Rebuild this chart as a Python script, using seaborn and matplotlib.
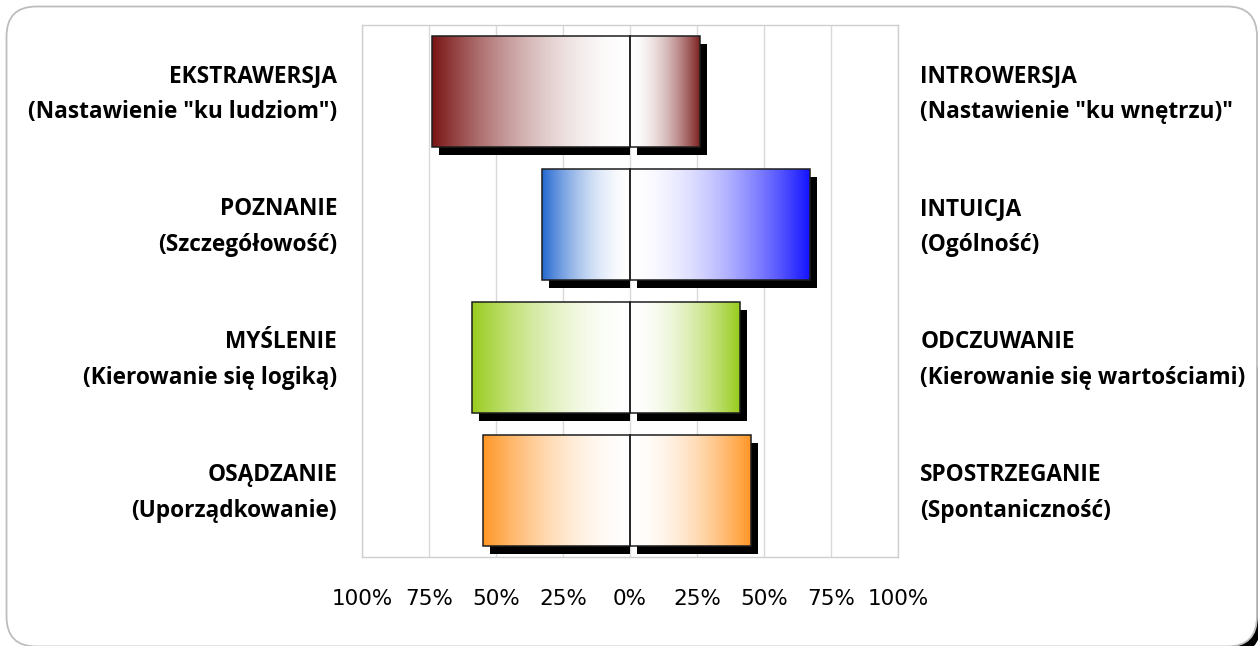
import numpy as np
import pandas as pd
import matplotlib
matplotlib.use("Agg")
import matplotlib.pyplot as plt
import seaborn as sns
from matplotlib.patches import Rectangle, FancyBboxPatch
from matplotlib.colors import to_rgb
import matplotlib.transforms as mtransforms

# ---------------- data ----------------
left_names = ["EKSTRAWERSJA", "POZNANIE", "MYŚLENIE", "OSĄDZANIE"]
left_desc = ['(Nastawienie "ku ludziom")', "(Szczegółowość)",
             "(Kierowanie się logiką)", "(Uporządkowanie)"]
right_names = ["INTROWERSJA", "INTUICJA", "ODCZUWANIE", "SPOSTRZEGANIE"]
right_desc = ['(Nastawienie "ku wnętrzu)"', "(Ogólność)",
              "(Kierowanie się wartościami)", "(Spontaniczność)"]
left_values = [74, 33, 59, 55]
right_values = [26, 67, 41, 45]
left_colors = ["#7a1414", "#2468d0", "#99cc1e", "#ff9626"]
right_colors = ["#7e2222", "#1414ff", "#99cc1e", "#ff9626"]
tick_values = [-100, -75, -50, -25, 0, 25, 50, 75, 100]
tick_labels = ["100%", "75%", "50%", "25%", "0%", "25%", "50%", "75%", "100%"]

# ---------------- figure ----------------
sns.set_theme(style="white")
plt.rcParams['font.family'] = ['Open Sans', 'DejaVu Sans']
W, H, DPI = 1258, 646, 100
fig = plt.figure(figsize=(W / DPI, H / DPI), dpi=DPI)
fig.patch.set_facecolor("white")

# outer rounded frame with shadow at the bottom-right corner
shadow = FancyBboxPatch((3.0, -0.08), 9.61, 3.0,
                        boxstyle="round,pad=0,rounding_size=0.3",
                        transform=fig.dpi_scale_trans, facecolor="black",
                        edgecolor="none", zorder=-2)
frame = FancyBboxPatch((0.065, -0.005), 12.505, 6.4,
                       boxstyle="round,pad=0,rounding_size=0.3",
                       transform=fig.dpi_scale_trans, facecolor="white",
                       edgecolor="#bdbdbd", linewidth=1.3, zorder=-1)
fig.patches.extend([shadow, frame])

ax = fig.add_axes([362 / W, 89 / H, 536 / W, 532 / H])
ax.set_facecolor("white")
ax.set_zorder(1)

df_left = pd.DataFrame({"pair": left_names, "value": [-v for v in left_values]})
df_right = pd.DataFrame({"pair": left_names, "value": right_values})

bar_w = 0.83
sns.barplot(data=df_left, x="value", y="pair", orient="h", width=bar_w,
            color="white", errorbar=None, ax=ax)
sns.barplot(data=df_right, x="value", y="pair", orient="h", width=bar_w,
            color="white", errorbar=None, ax=ax)

ax.set_xlim(-100, 100)
ax.set_ylim(3.5, -0.5)

# grid & spines
ax.set_axisbelow(True)
ax.set_xticks(tick_values, tick_labels)
ax.grid(axis="x", color="#d9d9d9", linewidth=1.0)
ax.grid(axis="y", visible=False)
for s in ax.spines.values():
    s.set_visible(True)
    s.set_color("#cfcfcf")
    s.set_linewidth(1.0)
ax.tick_params(axis="x", length=0, pad=23, colors="#000000")
for lab in ax.get_xticklabels():
    lab.set_fontfamily(["DejaVu Sans"])
    lab.set_fontsize(15.5)
ax.tick_params(axis="y", length=0, labelleft=False)
ax.set_xlabel("")
ax.set_ylabel("")

# gradients + shadows
px_per_unit = (ax.transData.transform((1, 0))[0] - ax.transData.transform((0, 0))[0])
sx, sy = 7, -8
shadow_tr = mtransforms.offset_copy(ax.transData, fig=fig, x=sx, y=sy, units="dots")
patches = list(ax.patches)
colors = left_colors + right_colors
for k, (p, col) in enumerate(zip(patches, colors)):
    bb = p.get_bbox()
    x0, x1 = sorted([bb.x0, bb.x1])
    y0, y1 = sorted([bb.y0, bb.y1])
    is_left = k < len(left_colors)
    # shadow
    if is_left:
        sw = (x1 - x0) - sx / px_per_unit
    else:
        sw = x1 - x0
    ax.add_patch(Rectangle((x0, y0), sw, y1 - y0, transform=shadow_tr,
                           facecolor="black", edgecolor="none", zorder=1))
    # gradient
    n = 300
    t = np.linspace(0, 1, n)  # 0 at centre, 1 at outer edge
    mix = t ** 1.8
    c = np.array(to_rgb(col))
    rgb = (1 - mix)[:, None] * np.ones(3)[None, :] + mix[:, None] * c[None, :]
    if is_left:
        rgb = rgb[::-1]
    img = np.tile(rgb[None, :, :], (2, 1, 1))
    im = ax.imshow(img, extent=[x0, x1, y1, y0], aspect="auto",
                   interpolation="bilinear", zorder=2)
    im.set_clip_path(p)
    p.set_facecolor("none")
    p.set_edgecolor("#1e1e1e")
    p.set_linewidth(1.1)
    p.set_zorder(3)

ax.set_xlim(-100, 100)
ax.set_ylim(3.5, -0.5)
ax.set_aspect("auto")

# side labels
off_top, off_bot = -0.118, 0.152
fs = 16.3
for i in range(len(left_names)):
    ax.text(-109.3, i + off_top, left_names[i], ha="right", va="center",
            fontsize=fs, fontweight="bold", color="black")
    ax.text(-109.3, i + off_bot, left_desc[i], ha="right", va="center",
            fontsize=fs, fontweight="bold", color="black")
    ax.text(108.3, i + off_top, right_names[i], ha="left", va="center",
            fontsize=fs, fontweight="bold", color="black")
    ax.text(108.3, i + off_bot, right_desc[i], ha="left", va="center",
            fontsize=fs, fontweight="bold", color="black")

fig.savefig("out.png", dpi=DPI, facecolor="white")
